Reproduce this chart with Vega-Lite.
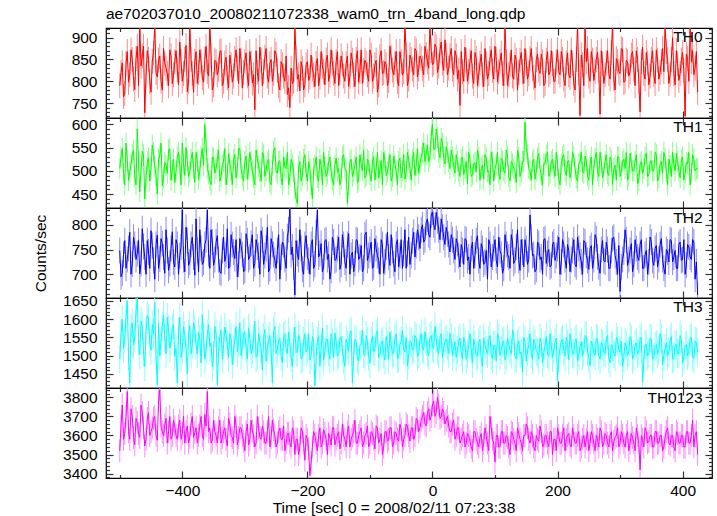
{
"$schema":"https://vega.github.io/schema/vega-lite/v6.json",
"padding":{"left":32,"top":7,"right":5,"bottom":5},
"title":{"text":"ae702037010_20080211072338_wam0_trn_4band_long.qdp","anchor":"start","frame":"group","font":"Liberation Sans","fontSize":15.5,"fontWeight":"normal","color":"#000","baseline":"alphabetic","offset":-13.5},
"datasets":{"lc":[
{"t":-500,"TH0":790,"TH1":505,"TH2":748,"TH3":1490,"TH0123":3520},
{"t":-498,"TH0":820,"TH1":530,"TH2":695,"TH3":1560,"TH0123":3650},
{"t":-496,"TH0":842,"TH1":548,"TH2":702,"TH3":1600,"TH0123":3760},
{"t":-494,"TH0":765,"TH1":495,"TH2":740,"TH3":1520,"TH0123":3580},
{"t":-492,"TH0":772,"TH1":470,"TH2":768,"TH3":1545,"TH0123":3610},
{"t":-490,"TH0":840,"TH1":560,"TH2":712,"TH3":1605,"TH0123":3700},
{"t":-488,"TH0":868,"TH1":522,"TH2":730,"TH3":1650,"TH0123":3830},
{"t":-486,"TH0":798,"TH1":480,"TH2":752,"TH3":1500,"TH0123":3620},
{"t":-484,"TH0":815,"TH1":498,"TH2":785,"TH3":1425,"TH0123":3580},
{"t":-482,"TH0":872,"TH1":515,"TH2":700,"TH3":1575,"TH0123":3740},
{"t":-480,"TH0":850,"TH1":536,"TH2":721,"TH3":1590,"TH0123":3700},
{"t":-478,"TH0":805,"TH1":545,"TH2":775,"TH3":1530,"TH0123":3590},
{"t":-476,"TH0":781,"TH1":487,"TH2":760,"TH3":1548,"TH0123":3552},
{"t":-474,"TH0":852,"TH1":470,"TH2":730,"TH3":1620,"TH0123":3690},
{"t":-472,"TH0":880,"TH1":590,"TH2":742,"TH3":1655,"TH0123":3668},
{"t":-470,"TH0":790,"TH1":520,"TH2":768,"TH3":1540,"TH0123":3610},
{"t":-468,"TH0":930,"TH1":455,"TH2":701,"TH3":1503,"TH0123":3590},
{"t":-466,"TH0":835,"TH1":500,"TH2":722,"TH3":1595,"TH0123":3760},
{"t":-464,"TH0":858,"TH1":542,"TH2":792,"TH3":1580,"TH0123":3720},
{"t":-462,"TH0":880,"TH1":535,"TH2":756,"TH3":1510,"TH0123":3640},
{"t":-460,"TH0":728,"TH1":440,"TH2":735,"TH3":1470,"TH0123":3545},
{"t":-458,"TH0":812,"TH1":485,"TH2":700,"TH3":1568,"TH0123":3580},
{"t":-456,"TH0":870,"TH1":520,"TH2":768,"TH3":1610,"TH0123":3690},
{"t":-454,"TH0":850,"TH1":528,"TH2":745,"TH3":1600,"TH0123":3720},
{"t":-452,"TH0":799,"TH1":478,"TH2":712,"TH3":1535,"TH0123":3600},
{"t":-450,"TH0":775,"TH1":505,"TH2":788,"TH3":1515,"TH0123":3620},
{"t":-448,"TH0":846,"TH1":556,"TH2":758,"TH3":1585,"TH0123":3640},
{"t":-446,"TH0":865,"TH1":540,"TH2":728,"TH3":1560,"TH0123":3690},
{"t":-444,"TH0":930,"TH1":510,"TH2":690,"TH3":1645,"TH0123":3700},
{"t":-442,"TH0":820,"TH1":490,"TH2":760,"TH3":1498,"TH0123":3600},
{"t":-440,"TH0":810,"TH1":450,"TH2":779,"TH3":1420,"TH0123":3575},
{"t":-438,"TH0":848,"TH1":525,"TH2":712,"TH3":1590,"TH0123":3780},
{"t":-436,"TH0":858,"TH1":532,"TH2":731,"TH3":1500,"TH0123":3840},
{"t":-434,"TH0":800,"TH1":560,"TH2":772,"TH3":1540,"TH0123":3650},
{"t":-432,"TH0":780,"TH1":468,"TH2":762,"TH3":1580,"TH0123":3620},
{"t":-430,"TH0":875,"TH1":485,"TH2":735,"TH3":1610,"TH0123":3600},
{"t":-428,"TH0":842,"TH1":518,"TH2":702,"TH3":1548,"TH0123":3655},
{"t":-426,"TH0":830,"TH1":512,"TH2":790,"TH3":1505,"TH0123":3690},
{"t":-424,"TH0":818,"TH1":495,"TH2":748,"TH3":1605,"TH0123":3560},
{"t":-422,"TH0":790,"TH1":545,"TH2":708,"TH3":1570,"TH0123":3620},
{"t":-420,"TH0":872,"TH1":548,"TH2":722,"TH3":1520,"TH0123":3700},
{"t":-418,"TH0":858,"TH1":480,"TH2":752,"TH3":1540,"TH0123":3580},
{"t":-416,"TH0":795,"TH1":502,"TH2":786,"TH3":1575,"TH0123":3600},
{"t":-414,"TH0":815,"TH1":525,"TH2":725,"TH3":1585,"TH0123":3680},
{"t":-412,"TH0":845,"TH1":475,"TH2":715,"TH3":1498,"TH0123":3645},
{"t":-410,"TH0":870,"TH1":500,"TH2":770,"TH3":1520,"TH0123":3600},
{"t":-408,"TH0":826,"TH1":530,"TH2":760,"TH3":1425,"TH0123":3580},
{"t":-406,"TH0":792,"TH1":540,"TH2":700,"TH3":1565,"TH0123":3650},
{"t":-404,"TH0":890,"TH1":512,"TH2":738,"TH3":1605,"TH0123":3680},
{"t":-402,"TH0":845,"TH1":470,"TH2":755,"TH3":1495,"TH0123":3580},
{"t":-400,"TH0":800,"TH1":560,"TH2":830,"TH3":1515,"TH0123":3610},
{"t":-398,"TH0":818,"TH1":515,"TH2":730,"TH3":1580,"TH0123":3700},
{"t":-396,"TH0":850,"TH1":490,"TH2":705,"TH3":1555,"TH0123":3560},
{"t":-394,"TH0":882,"TH1":550,"TH2":795,"TH3":1520,"TH0123":3620},
{"t":-392,"TH0":776,"TH1":522,"TH2":768,"TH3":1450,"TH0123":3650},
{"t":-390,"TH0":800,"TH1":488,"TH2":718,"TH3":1560,"TH0123":3560},
{"t":-388,"TH0":925,"TH1":498,"TH2":725,"TH3":1582,"TH0123":3590},
{"t":-386,"TH0":850,"TH1":525,"TH2":760,"TH3":1505,"TH0123":3660},
{"t":-384,"TH0":818,"TH1":540,"TH2":775,"TH3":1530,"TH0123":3700},
{"t":-382,"TH0":775,"TH1":505,"TH2":735,"TH3":1590,"TH0123":3590},
{"t":-380,"TH0":846,"TH1":475,"TH2":698,"TH3":1575,"TH0123":3615},
{"t":-378,"TH0":868,"TH1":540,"TH2":812,"TH3":1530,"TH0123":3640},
{"t":-376,"TH0":795,"TH1":520,"TH2":748,"TH3":1505,"TH0123":3560},
{"t":-374,"TH0":820,"TH1":482,"TH2":705,"TH3":1565,"TH0123":3600},
{"t":-372,"TH0":872,"TH1":500,"TH2":790,"TH3":1545,"TH0123":3650},
{"t":-370,"TH0":846,"TH1":530,"TH2":752,"TH3":1480,"TH0123":3700},
{"t":-368,"TH0":808,"TH1":548,"TH2":720,"TH3":1612,"TH0123":3600},
{"t":-366,"TH0":798,"TH1":512,"TH2":725,"TH3":1550,"TH0123":3580},
{"t":-364,"TH0":850,"TH1":600,"TH2":760,"TH3":1490,"TH0123":3710},
{"t":-362,"TH0":880,"TH1":560,"TH2":770,"TH3":1515,"TH0123":3650},
{"t":-360,"TH0":822,"TH1":505,"TH2":830,"TH3":1560,"TH0123":3830},
{"t":-358,"TH0":812,"TH1":495,"TH2":742,"TH3":1585,"TH0123":3620},
{"t":-356,"TH0":935,"TH1":480,"TH2":712,"TH3":1525,"TH0123":3640},
{"t":-354,"TH0":858,"TH1":470,"TH2":790,"TH3":1535,"TH0123":3560},
{"t":-352,"TH0":780,"TH1":530,"TH2":765,"TH3":1470,"TH0123":3575},
{"t":-350,"TH0":792,"TH1":528,"TH2":718,"TH3":1500,"TH0123":3680},
{"t":-348,"TH0":848,"TH1":495,"TH2":730,"TH3":1580,"TH0123":3620},
{"t":-346,"TH0":845,"TH1":505,"TH2":765,"TH3":1560,"TH0123":3600},
{"t":-344,"TH0":815,"TH1":525,"TH2":778,"TH3":1420,"TH0123":3560},
{"t":-342,"TH0":828,"TH1":545,"TH2":730,"TH3":1512,"TH0123":3640},
{"t":-340,"TH0":868,"TH1":478,"TH2":705,"TH3":1552,"TH0123":3680},
{"t":-338,"TH0":870,"TH1":488,"TH2":702,"TH3":1570,"TH0123":3560},
{"t":-336,"TH0":790,"TH1":512,"TH2":748,"TH3":1490,"TH0123":3590},
{"t":-334,"TH0":800,"TH1":520,"TH2":775,"TH3":1530,"TH0123":3620},
{"t":-332,"TH0":842,"TH1":548,"TH2":726,"TH3":1578,"TH0123":3640},
{"t":-330,"TH0":855,"TH1":470,"TH2":740,"TH3":1555,"TH0123":3580},
{"t":-328,"TH0":808,"TH1":492,"TH2":792,"TH3":1528,"TH0123":3545},
{"t":-326,"TH0":785,"TH1":538,"TH2":712,"TH3":1495,"TH0123":3690},
{"t":-324,"TH0":860,"TH1":515,"TH2":715,"TH3":1560,"TH0123":3660},
{"t":-322,"TH0":838,"TH1":500,"TH2":780,"TH3":1548,"TH0123":3600},
{"t":-320,"TH0":798,"TH1":470,"TH2":760,"TH3":1475,"TH0123":3590},
{"t":-318,"TH0":812,"TH1":525,"TH2":745,"TH3":1515,"TH0123":3560},
{"t":-316,"TH0":852,"TH1":535,"TH2":732,"TH3":1545,"TH0123":3700},
{"t":-314,"TH0":872,"TH1":485,"TH2":770,"TH3":1580,"TH0123":3650},
{"t":-312,"TH0":830,"TH1":506,"TH2":695,"TH3":1510,"TH0123":3550},
{"t":-310,"TH0":795,"TH1":548,"TH2":720,"TH3":1535,"TH0123":3590},
{"t":-308,"TH0":875,"TH1":548,"TH2":772,"TH3":1590,"TH0123":3640},
{"t":-306,"TH0":848,"TH1":505,"TH2":758,"TH3":1500,"TH0123":3640},
{"t":-304,"TH0":785,"TH1":490,"TH2":740,"TH3":1528,"TH0123":3600},
{"t":-302,"TH0":820,"TH1":478,"TH2":705,"TH3":1560,"TH0123":3570},
{"t":-300,"TH0":846,"TH1":520,"TH2":708,"TH3":1565,"TH0123":3520},
{"t":-298,"TH0":865,"TH1":532,"TH2":782,"TH3":1520,"TH0123":3620},
{"t":-296,"TH0":812,"TH1":482,"TH2":768,"TH3":1490,"TH0123":3660},
{"t":-294,"TH0":790,"TH1":505,"TH2":730,"TH3":1575,"TH0123":3550},
{"t":-292,"TH0":868,"TH1":540,"TH2":735,"TH3":1548,"TH0123":3580},
{"t":-290,"TH0":842,"TH1":520,"TH2":762,"TH3":1505,"TH0123":3680},
{"t":-288,"TH0":796,"TH1":500,"TH2":780,"TH3":1515,"TH0123":3625},
{"t":-286,"TH0":815,"TH1":485,"TH2":712,"TH3":1545,"TH0123":3600},
{"t":-284,"TH0":735,"TH1":470,"TH2":722,"TH3":1595,"TH0123":3540},
{"t":-282,"TH0":870,"TH1":545,"TH2":770,"TH3":1495,"TH0123":3560},
{"t":-280,"TH0":820,"TH1":526,"TH2":755,"TH3":1500,"TH0123":3700},
{"t":-278,"TH0":800,"TH1":510,"TH2":738,"TH3":1560,"TH0123":3640},
{"t":-276,"TH0":878,"TH1":498,"TH2":700,"TH3":1538,"TH0123":3590},
{"t":-274,"TH0":848,"TH1":478,"TH2":788,"TH3":1520,"TH0123":3580},
{"t":-272,"TH0":790,"TH1":540,"TH2":770,"TH3":1460,"TH0123":3650},
{"t":-270,"TH0":822,"TH1":535,"TH2":720,"TH3":1550,"TH0123":3620},
{"t":-268,"TH0":855,"TH1":488,"TH2":738,"TH3":1572,"TH0123":3560},
{"t":-266,"TH0":875,"TH1":500,"TH2":752,"TH3":1485,"TH0123":3560},
{"t":-264,"TH0":812,"TH1":520,"TH2":795,"TH3":1520,"TH0123":3620},
{"t":-262,"TH0":798,"TH1":525,"TH2":705,"TH3":1540,"TH0123":3700},
{"t":-260,"TH0":840,"TH1":476,"TH2":712,"TH3":1555,"TH0123":3540},
{"t":-258,"TH0":850,"TH1":470,"TH2":772,"TH3":1515,"TH0123":3590},
{"t":-256,"TH0":800,"TH1":512,"TH2":760,"TH3":1425,"TH0123":3680},
{"t":-254,"TH0":818,"TH1":542,"TH2":740,"TH3":1565,"TH0123":3630},
{"t":-252,"TH0":870,"TH1":550,"TH2":728,"TH3":1580,"TH0123":3600},
{"t":-250,"TH0":862,"TH1":498,"TH2":712,"TH3":1505,"TH0123":3540},
{"t":-248,"TH0":825,"TH1":495,"TH2":748,"TH3":1518,"TH0123":3560},
{"t":-246,"TH0":790,"TH1":520,"TH2":780,"TH3":1540,"TH0123":3620},
{"t":-244,"TH0":780,"TH1":522,"TH2":690,"TH3":1548,"TH0123":3640},
{"t":-242,"TH0":845,"TH1":485,"TH2":735,"TH3":1500,"TH0123":3580},
{"t":-240,"TH0":838,"TH1":470,"TH2":765,"TH3":1480,"TH0123":3580},
{"t":-238,"TH0":812,"TH1":530,"TH2":760,"TH3":1552,"TH0123":3650},
{"t":-236,"TH0":800,"TH1":508,"TH2":730,"TH3":1560,"TH0123":3520},
{"t":-234,"TH0":858,"TH1":505,"TH2":712,"TH3":1520,"TH0123":3560},
{"t":-232,"TH0":770,"TH1":540,"TH2":776,"TH3":1505,"TH0123":3610},
{"t":-230,"TH0":785,"TH1":470,"TH2":790,"TH3":1565,"TH0123":3610},
{"t":-228,"TH0":740,"TH1":488,"TH2":832,"TH3":1535,"TH0123":3560},
{"t":-226,"TH0":830,"TH1":525,"TH2":740,"TH3":1495,"TH0123":3540},
{"t":-224,"TH0":795,"TH1":515,"TH2":755,"TH3":1470,"TH0123":3640},
{"t":-222,"TH0":800,"TH1":498,"TH2":715,"TH3":1540,"TH0123":3620},
{"t":-220,"TH0":925,"TH1":462,"TH2":658,"TH3":1578,"TH0123":3500},
{"t":-218,"TH0":855,"TH1":440,"TH2":768,"TH3":1508,"TH0123":3580},
{"t":-216,"TH0":805,"TH1":430,"TH2":742,"TH3":1512,"TH0123":3580},
{"t":-214,"TH0":815,"TH1":510,"TH2":730,"TH3":1555,"TH0123":3500},
{"t":-212,"TH0":778,"TH1":520,"TH2":790,"TH3":1545,"TH0123":3540},
{"t":-210,"TH0":845,"TH1":478,"TH2":752,"TH3":1490,"TH0123":3640},
{"t":-208,"TH0":830,"TH1":490,"TH2":710,"TH3":1495,"TH0123":3620},
{"t":-206,"TH0":780,"TH1":525,"TH2":700,"TH3":1540,"TH0123":3560},
{"t":-204,"TH0":792,"TH1":535,"TH2":760,"TH3":1560,"TH0123":3470},
{"t":-202,"TH0":838,"TH1":495,"TH2":778,"TH3":1510,"TH0123":3600},
{"t":-200,"TH0":845,"TH1":478,"TH2":735,"TH3":1520,"TH0123":3580},
{"t":-198,"TH0":802,"TH1":520,"TH2":728,"TH3":1560,"TH0123":3530},
{"t":-196,"TH0":810,"TH1":505,"TH2":700,"TH3":1488,"TH0123":3390},
{"t":-194,"TH0":860,"TH1":470,"TH2":760,"TH3":1500,"TH0123":3460},
{"t":-192,"TH0":828,"TH1":440,"TH2":770,"TH3":1552,"TH0123":3540},
{"t":-190,"TH0":815,"TH1":505,"TH2":712,"TH3":1535,"TH0123":3620},
{"t":-188,"TH0":788,"TH1":512,"TH2":720,"TH3":1418,"TH0123":3600},
{"t":-186,"TH0":840,"TH1":530,"TH2":785,"TH3":1495,"TH0123":3560},
{"t":-184,"TH0":852,"TH1":486,"TH2":830,"TH3":1540,"TH0123":3520},
{"t":-182,"TH0":790,"TH1":478,"TH2":735,"TH3":1555,"TH0123":3600},
{"t":-180,"TH0":810,"TH1":525,"TH2":742,"TH3":1470,"TH0123":3640},
{"t":-178,"TH0":868,"TH1":512,"TH2":762,"TH3":1520,"TH0123":3540},
{"t":-176,"TH0":835,"TH1":470,"TH2":705,"TH3":1575,"TH0123":3560},
{"t":-174,"TH0":822,"TH1":540,"TH2":715,"TH3":1488,"TH0123":3630},
{"t":-172,"TH0":792,"TH1":508,"TH2":768,"TH3":1510,"TH0123":3610},
{"t":-170,"TH0":848,"TH1":488,"TH2":770,"TH3":1545,"TH0123":3580},
{"t":-168,"TH0":860,"TH1":495,"TH2":730,"TH3":1545,"TH0123":3500},
{"t":-166,"TH0":800,"TH1":520,"TH2":740,"TH3":1510,"TH0123":3610},
{"t":-164,"TH0":815,"TH1":530,"TH2":690,"TH3":1490,"TH0123":3590},
{"t":-162,"TH0":872,"TH1":498,"TH2":708,"TH3":1560,"TH0123":3550},
{"t":-160,"TH0":842,"TH1":480,"TH2":775,"TH3":1535,"TH0123":3640},
{"t":-158,"TH0":818,"TH1":470,"TH2":765,"TH3":1495,"TH0123":3640},
{"t":-156,"TH0":795,"TH1":512,"TH2":728,"TH3":1562,"TH0123":3550},
{"t":-154,"TH0":845,"TH1":528,"TH2":730,"TH3":1538,"TH0123":3580},
{"t":-152,"TH0":868,"TH1":498,"TH2":752,"TH3":1500,"TH0123":3600},
{"t":-150,"TH0":790,"TH1":505,"TH2":775,"TH3":1505,"TH0123":3620},
{"t":-148,"TH0":820,"TH1":470,"TH2":710,"TH3":1548,"TH0123":3530},
{"t":-146,"TH0":858,"TH1":482,"TH2":720,"TH3":1552,"TH0123":3560},
{"t":-144,"TH0":840,"TH1":530,"TH2":780,"TH3":1515,"TH0123":3660},
{"t":-142,"TH0":812,"TH1":535,"TH2":760,"TH3":1490,"TH0123":3600},
{"t":-140,"TH0":800,"TH1":505,"TH2":725,"TH3":1470,"TH0123":3580},
{"t":-138,"TH0":840,"TH1":500,"TH2":712,"TH3":1545,"TH0123":3540},
{"t":-136,"TH0":858,"TH1":430,"TH2":760,"TH3":1530,"TH0123":3620},
{"t":-134,"TH0":788,"TH1":470,"TH2":782,"TH3":1512,"TH0123":3650},
{"t":-132,"TH0":812,"TH1":520,"TH2":700,"TH3":1560,"TH0123":3540},
{"t":-130,"TH0":865,"TH1":525,"TH2":738,"TH3":1568,"TH0123":3580},
{"t":-128,"TH0":848,"TH1":488,"TH2":745,"TH3":1425,"TH0123":3600},
{"t":-126,"TH0":815,"TH1":498,"TH2":705,"TH3":1500,"TH0123":3620},
{"t":-124,"TH0":788,"TH1":512,"TH2":722,"TH3":1545,"TH0123":3680},
{"t":-122,"TH0":850,"TH1":530,"TH2":770,"TH3":1540,"TH0123":3560},
{"t":-120,"TH0":870,"TH1":475,"TH2":768,"TH3":1490,"TH0123":3560},
{"t":-118,"TH0":798,"TH1":480,"TH2":730,"TH3":1485,"TH0123":3600},
{"t":-116,"TH0":822,"TH1":535,"TH2":735,"TH3":1528,"TH0123":3620},
{"t":-114,"TH0":872,"TH1":515,"TH2":758,"TH3":1530,"TH0123":3640},
{"t":-112,"TH0":795,"TH1":500,"TH2":705,"TH3":1570,"TH0123":3540},
{"t":-110,"TH0":825,"TH1":545,"TH2":712,"TH3":1505,"TH0123":3560},
{"t":-108,"TH0":848,"TH1":485,"TH2":780,"TH3":1500,"TH0123":3600},
{"t":-106,"TH0":842,"TH1":490,"TH2":785,"TH3":1555,"TH0123":3610},
{"t":-104,"TH0":815,"TH1":525,"TH2":728,"TH3":1538,"TH0123":3650},
{"t":-102,"TH0":800,"TH1":520,"TH2":738,"TH3":1498,"TH0123":3540},
{"t":-100,"TH0":872,"TH1":492,"TH2":750,"TH3":1478,"TH0123":3560},
{"t":-98,"TH0":860,"TH1":478,"TH2":765,"TH3":1540,"TH0123":3620},
{"t":-96,"TH0":800,"TH1":518,"TH2":712,"TH3":1552,"TH0123":3610},
{"t":-94,"TH0":812,"TH1":530,"TH2":715,"TH3":1512,"TH0123":3580},
{"t":-92,"TH0":838,"TH1":480,"TH2":772,"TH3":1512,"TH0123":3530},
{"t":-90,"TH0":848,"TH1":505,"TH2":752,"TH3":1560,"TH0123":3650},
{"t":-88,"TH0":775,"TH1":540,"TH2":738,"TH3":1568,"TH0123":3640},
{"t":-86,"TH0":792,"TH1":485,"TH2":728,"TH3":1495,"TH0123":3560},
{"t":-84,"TH0":856,"TH1":502,"TH2":700,"TH3":1500,"TH0123":3580},
{"t":-82,"TH0":870,"TH1":522,"TH2":770,"TH3":1535,"TH0123":3610},
{"t":-80,"TH0":818,"TH1":470,"TH2":760,"TH3":1540,"TH0123":3500},
{"t":-78,"TH0":820,"TH1":540,"TH2":702,"TH3":1505,"TH0123":3540},
{"t":-76,"TH0":845,"TH1":522,"TH2":725,"TH3":1488,"TH0123":3620},
{"t":-74,"TH0":838,"TH1":490,"TH2":755,"TH3":1552,"TH0123":3620},
{"t":-72,"TH0":790,"TH1":498,"TH2":785,"TH3":1530,"TH0123":3570},
{"t":-70,"TH0":802,"TH1":515,"TH2":735,"TH3":1490,"TH0123":3580},
{"t":-68,"TH0":880,"TH1":535,"TH2":718,"TH3":1565,"TH0123":3640},
{"t":-66,"TH0":855,"TH1":478,"TH2":780,"TH3":1530,"TH0123":3640},
{"t":-64,"TH0":826,"TH1":488,"TH2":748,"TH3":1505,"TH0123":3540},
{"t":-62,"TH0":815,"TH1":532,"TH2":722,"TH3":1508,"TH0123":3560},
{"t":-60,"TH0":842,"TH1":515,"TH2":705,"TH3":1548,"TH0123":3620},
{"t":-58,"TH0":868,"TH1":500,"TH2":760,"TH3":1560,"TH0123":3610},
{"t":-56,"TH0":800,"TH1":470,"TH2":770,"TH3":1492,"TH0123":3580},
{"t":-54,"TH0":790,"TH1":520,"TH2":715,"TH3":1495,"TH0123":3570},
{"t":-52,"TH0":868,"TH1":528,"TH2":738,"TH3":1530,"TH0123":3660},
{"t":-50,"TH0":845,"TH1":485,"TH2":770,"TH3":1540,"TH0123":3630},
{"t":-48,"TH0":815,"TH1":500,"TH2":712,"TH3":1568,"TH0123":3540},
{"t":-46,"TH0":822,"TH1":535,"TH2":742,"TH3":1515,"TH0123":3580},
{"t":-44,"TH0":930,"TH1":482,"TH2":790,"TH3":1510,"TH0123":3600},
{"t":-42,"TH0":862,"TH1":498,"TH2":712,"TH3":1550,"TH0123":3660},
{"t":-40,"TH0":790,"TH1":540,"TH2":742,"TH3":1472,"TH0123":3650},
{"t":-38,"TH0":805,"TH1":525,"TH2":775,"TH3":1500,"TH0123":3600},
{"t":-36,"TH0":860,"TH1":505,"TH2":720,"TH3":1540,"TH0123":3570},
{"t":-34,"TH0":850,"TH1":480,"TH2":738,"TH3":1535,"TH0123":3640},
{"t":-32,"TH0":828,"TH1":525,"TH2":768,"TH3":1515,"TH0123":3640},
{"t":-30,"TH0":815,"TH1":540,"TH2":785,"TH3":1520,"TH0123":3580},
{"t":-28,"TH0":875,"TH1":490,"TH2":735,"TH3":1555,"TH0123":3600},
{"t":-26,"TH0":870,"TH1":512,"TH2":758,"TH3":1548,"TH0123":3690},
{"t":-24,"TH0":810,"TH1":548,"TH2":790,"TH3":1498,"TH0123":3680},
{"t":-22,"TH0":828,"TH1":495,"TH2":775,"TH3":1505,"TH0123":3620},
{"t":-20,"TH0":858,"TH1":515,"TH2":752,"TH3":1545,"TH0123":3640},
{"t":-18,"TH0":852,"TH1":530,"TH2":790,"TH3":1560,"TH0123":3680},
{"t":-16,"TH0":830,"TH1":540,"TH2":800,"TH3":1520,"TH0123":3700},
{"t":-14,"TH0":815,"TH1":560,"TH2":765,"TH3":1515,"TH0123":3720},
{"t":-12,"TH0":880,"TH1":520,"TH2":770,"TH3":1565,"TH0123":3660},
{"t":-10,"TH0":862,"TH1":535,"TH2":805,"TH3":1540,"TH0123":3650},
{"t":-8,"TH0":845,"TH1":556,"TH2":812,"TH3":1510,"TH0123":3720},
{"t":-6,"TH0":830,"TH1":520,"TH2":780,"TH3":1500,"TH0123":3740},
{"t":-4,"TH0":925,"TH1":530,"TH2":775,"TH3":1548,"TH0123":3680},
{"t":-2,"TH0":870,"TH1":575,"TH2":820,"TH3":1555,"TH0123":3700},
{"t":0,"TH0":838,"TH1":600,"TH2":826,"TH3":1525,"TH0123":3760},
{"t":2,"TH0":842,"TH1":548,"TH2":800,"TH3":1520,"TH0123":3780},
{"t":4,"TH0":885,"TH1":545,"TH2":790,"TH3":1580,"TH0123":3700},
{"t":6,"TH0":878,"TH1":590,"TH2":825,"TH3":1548,"TH0123":3720},
{"t":8,"TH0":820,"TH1":572,"TH2":808,"TH3":1515,"TH0123":3800},
{"t":10,"TH0":835,"TH1":540,"TH2":790,"TH3":1505,"TH0123":3760},
{"t":12,"TH0":870,"TH1":528,"TH2":770,"TH3":1550,"TH0123":3690},
{"t":14,"TH0":890,"TH1":570,"TH2":812,"TH3":1560,"TH0123":3700},
{"t":16,"TH0":842,"TH1":560,"TH2":795,"TH3":1495,"TH0123":3740},
{"t":18,"TH0":825,"TH1":530,"TH2":775,"TH3":1520,"TH0123":3720},
{"t":20,"TH0":895,"TH1":515,"TH2":760,"TH3":1540,"TH0123":3660},
{"t":22,"TH0":860,"TH1":552,"TH2":795,"TH3":1545,"TH0123":3680},
{"t":24,"TH0":815,"TH1":540,"TH2":782,"TH3":1528,"TH0123":3700},
{"t":26,"TH0":830,"TH1":520,"TH2":760,"TH3":1505,"TH0123":3650},
{"t":28,"TH0":858,"TH1":505,"TH2":745,"TH3":1562,"TH0123":3620},
{"t":30,"TH0":875,"TH1":545,"TH2":780,"TH3":1548,"TH0123":3620},
{"t":32,"TH0":828,"TH1":530,"TH2":770,"TH3":1500,"TH0123":3660},
{"t":34,"TH0":815,"TH1":510,"TH2":748,"TH3":1520,"TH0123":3680},
{"t":36,"TH0":870,"TH1":495,"TH2":730,"TH3":1538,"TH0123":3580},
{"t":38,"TH0":858,"TH1":535,"TH2":772,"TH3":1495,"TH0123":3600},
{"t":40,"TH0":805,"TH1":520,"TH2":762,"TH3":1515,"TH0123":3640},
{"t":42,"TH0":825,"TH1":500,"TH2":738,"TH3":1540,"TH0123":3640},
{"t":44,"TH0":745,"TH1":488,"TH2":715,"TH3":1548,"TH0123":3560},
{"t":46,"TH0":868,"TH1":525,"TH2":760,"TH3":1510,"TH0123":3580},
{"t":48,"TH0":822,"TH1":530,"TH2":748,"TH3":1490,"TH0123":3600},
{"t":50,"TH0":800,"TH1":492,"TH2":720,"TH3":1550,"TH0123":3620},
{"t":52,"TH0":878,"TH1":505,"TH2":772,"TH3":1535,"TH0123":3540},
{"t":54,"TH0":848,"TH1":520,"TH2":770,"TH3":1490,"TH0123":3560},
{"t":56,"TH0":800,"TH1":472,"TH2":728,"TH3":1505,"TH0123":3610},
{"t":58,"TH0":822,"TH1":540,"TH2":735,"TH3":1530,"TH0123":3600},
{"t":60,"TH0":845,"TH1":525,"TH2":700,"TH3":1560,"TH0123":3570},
{"t":62,"TH0":870,"TH1":488,"TH2":752,"TH3":1515,"TH0123":3540},
{"t":64,"TH0":812,"TH1":492,"TH2":765,"TH3":1480,"TH0123":3520},
{"t":66,"TH0":795,"TH1":515,"TH2":712,"TH3":1545,"TH0123":3620},
{"t":68,"TH0":866,"TH1":518,"TH2":738,"TH3":1528,"TH0123":3620},
{"t":70,"TH0":852,"TH1":498,"TH2":768,"TH3":1500,"TH0123":3580},
{"t":72,"TH0":790,"TH1":545,"TH2":778,"TH3":1500,"TH0123":3560},
{"t":74,"TH0":815,"TH1":530,"TH2":728,"TH3":1535,"TH0123":3540},
{"t":76,"TH0":842,"TH1":480,"TH2":712,"TH3":1545,"TH0123":3590},
{"t":78,"TH0":862,"TH1":505,"TH2":762,"TH3":1490,"TH0123":3610},
{"t":80,"TH0":815,"TH1":512,"TH2":752,"TH3":1470,"TH0123":3520},
{"t":82,"TH0":788,"TH1":482,"TH2":720,"TH3":1548,"TH0123":3560},
{"t":84,"TH0":875,"TH1":535,"TH2":725,"TH3":1530,"TH0123":3640},
{"t":86,"TH0":840,"TH1":528,"TH2":748,"TH3":1515,"TH0123":3600},
{"t":88,"TH0":805,"TH1":498,"TH2":690,"TH3":1505,"TH0123":3560},
{"t":90,"TH0":818,"TH1":500,"TH2":770,"TH3":1540,"TH0123":3520},
{"t":92,"TH0":852,"TH1":470,"TH2":760,"TH3":1555,"TH0123":3700},
{"t":94,"TH0":872,"TH1":540,"TH2":715,"TH3":1500,"TH0123":3640},
{"t":96,"TH0":825,"TH1":520,"TH2":735,"TH3":1492,"TH0123":3580},
{"t":98,"TH0":805,"TH1":478,"TH2":752,"TH3":1528,"TH0123":3560},
{"t":100,"TH0":880,"TH1":505,"TH2":770,"TH3":1528,"TH0123":3460},
{"t":102,"TH0":850,"TH1":515,"TH2":728,"TH3":1485,"TH0123":3600},
{"t":104,"TH0":798,"TH1":540,"TH2":715,"TH3":1560,"TH0123":3600},
{"t":106,"TH0":822,"TH1":495,"TH2":775,"TH3":1550,"TH0123":3540},
{"t":108,"TH0":846,"TH1":482,"TH2":748,"TH3":1500,"TH0123":3540},
{"t":110,"TH0":865,"TH1":528,"TH2":740,"TH3":1515,"TH0123":3620},
{"t":112,"TH0":818,"TH1":520,"TH2":702,"TH3":1535,"TH0123":3620},
{"t":114,"TH0":790,"TH1":500,"TH2":712,"TH3":1540,"TH0123":3560},
{"t":116,"TH0":928,"TH1":495,"TH2":780,"TH3":1488,"TH0123":3560},
{"t":118,"TH0":845,"TH1":545,"TH2":760,"TH3":1500,"TH0123":3600},
{"t":120,"TH0":790,"TH1":532,"TH2":740,"TH3":1548,"TH0123":3590},
{"t":122,"TH0":815,"TH1":488,"TH2":735,"TH3":1532,"TH0123":3540},
{"t":124,"TH0":838,"TH1":478,"TH2":712,"TH3":1515,"TH0123":3500},
{"t":126,"TH0":872,"TH1":520,"TH2":780,"TH3":1505,"TH0123":3620},
{"t":128,"TH0":812,"TH1":515,"TH2":765,"TH3":1570,"TH0123":3610},
{"t":130,"TH0":805,"TH1":505,"TH2":722,"TH3":1558,"TH0123":3580},
{"t":132,"TH0":860,"TH1":500,"TH2":728,"TH3":1495,"TH0123":3560},
{"t":134,"TH0":848,"TH1":475,"TH2":755,"TH3":1492,"TH0123":3520},
{"t":136,"TH0":780,"TH1":545,"TH2":790,"TH3":1530,"TH0123":3640},
{"t":138,"TH0":820,"TH1":530,"TH2":728,"TH3":1540,"TH0123":3610},
{"t":140,"TH0":848,"TH1":488,"TH2":708,"TH3":1505,"TH0123":3580},
{"t":142,"TH0":866,"TH1":498,"TH2":770,"TH3":1510,"TH0123":3560},
{"t":144,"TH0":822,"TH1":520,"TH2":745,"TH3":1455,"TH0123":3520},
{"t":146,"TH0":795,"TH1":520,"TH2":715,"TH3":1550,"TH0123":3600},
{"t":148,"TH0":875,"TH1":605,"TH2":770,"TH3":1540,"TH0123":3600},
{"t":150,"TH0":842,"TH1":548,"TH2":752,"TH3":1485,"TH0123":3660},
{"t":152,"TH0":805,"TH1":536,"TH2":720,"TH3":1512,"TH0123":3640},
{"t":154,"TH0":818,"TH1":505,"TH2":730,"TH3":1530,"TH0123":3580},
{"t":156,"TH0":852,"TH1":500,"TH2":820,"TH3":1560,"TH0123":3560},
{"t":158,"TH0":875,"TH1":480,"TH2":775,"TH3":1505,"TH0123":3620},
{"t":160,"TH0":828,"TH1":520,"TH2":738,"TH3":1490,"TH0123":3600},
{"t":162,"TH0":808,"TH1":525,"TH2":740,"TH3":1545,"TH0123":3540},
{"t":164,"TH0":785,"TH1":482,"TH2":705,"TH3":1532,"TH0123":3520},
{"t":166,"TH0":850,"TH1":500,"TH2":710,"TH3":1512,"TH0123":3600},
{"t":168,"TH0":862,"TH1":528,"TH2":765,"TH3":1508,"TH0123":3580},
{"t":170,"TH0":826,"TH1":538,"TH2":762,"TH3":1490,"TH0123":3570},
{"t":172,"TH0":818,"TH1":505,"TH2":730,"TH3":1548,"TH0123":3650},
{"t":174,"TH0":862,"TH1":490,"TH2":735,"TH3":1535,"TH0123":3620},
{"t":176,"TH0":845,"TH1":470,"TH2":700,"TH3":1480,"TH0123":3540},
{"t":178,"TH0":790,"TH1":515,"TH2":770,"TH3":1508,"TH0123":3550},
{"t":180,"TH0":795,"TH1":515,"TH2":772,"TH3":1528,"TH0123":3600},
{"t":182,"TH0":848,"TH1":535,"TH2":722,"TH3":1552,"TH0123":3600},
{"t":184,"TH0":868,"TH1":540,"TH2":742,"TH3":1505,"TH0123":3560},
{"t":186,"TH0":815,"TH1":488,"TH2":750,"TH3":1498,"TH0123":3540},
{"t":188,"TH0":822,"TH1":495,"TH2":715,"TH3":1560,"TH0123":3620},
{"t":190,"TH0":870,"TH1":520,"TH2":718,"TH3":1530,"TH0123":3620},
{"t":192,"TH0":840,"TH1":525,"TH2":760,"TH3":1495,"TH0123":3500},
{"t":194,"TH0":800,"TH1":505,"TH2":765,"TH3":1515,"TH0123":3580},
{"t":196,"TH0":800,"TH1":488,"TH2":728,"TH3":1535,"TH0123":3580},
{"t":198,"TH0":845,"TH1":540,"TH2":738,"TH3":1548,"TH0123":3520},
{"t":200,"TH0":872,"TH1":512,"TH2":752,"TH3":1430,"TH0123":3640},
{"t":202,"TH0":822,"TH1":482,"TH2":775,"TH3":1495,"TH0123":3600},
{"t":204,"TH0":815,"TH1":470,"TH2":700,"TH3":1520,"TH0123":3560},
{"t":206,"TH0":868,"TH1":515,"TH2":725,"TH3":1540,"TH0123":3560},
{"t":208,"TH0":850,"TH1":530,"TH2":770,"TH3":1545,"TH0123":3600},
{"t":210,"TH0":805,"TH1":535,"TH2":760,"TH3":1512,"TH0123":3640},
{"t":212,"TH0":790,"TH1":500,"TH2":730,"TH3":1498,"TH0123":3520},
{"t":214,"TH0":842,"TH1":490,"TH2":712,"TH3":1550,"TH0123":3580},
{"t":216,"TH0":865,"TH1":520,"TH2":760,"TH3":1530,"TH0123":3600},
{"t":218,"TH0":815,"TH1":522,"TH2":748,"TH3":1488,"TH0123":3610},
{"t":220,"TH0":808,"TH1":485,"TH2":705,"TH3":1560,"TH0123":3550},
{"t":222,"TH0":872,"TH1":500,"TH2":730,"TH3":1535,"TH0123":3540},
{"t":224,"TH0":842,"TH1":540,"TH2":748,"TH3":1505,"TH0123":3640},
{"t":226,"TH0":795,"TH1":530,"TH2":770,"TH3":1505,"TH0123":3600},
{"t":228,"TH0":780,"TH1":505,"TH2":720,"TH3":1540,"TH0123":3560},
{"t":230,"TH0":850,"TH1":485,"TH2":715,"TH3":1545,"TH0123":3560},
{"t":232,"TH0":928,"TH1":478,"TH2":775,"TH3":1485,"TH0123":3600},
{"t":234,"TH0":820,"TH1":515,"TH2":752,"TH3":1500,"TH0123":3620},
{"t":236,"TH0":722,"TH1":520,"TH2":738,"TH3":1525,"TH0123":3520},
{"t":238,"TH0":860,"TH1":540,"TH2":725,"TH3":1538,"TH0123":3540},
{"t":240,"TH0":838,"TH1":498,"TH2":700,"TH3":1500,"TH0123":3580},
{"t":242,"TH0":790,"TH1":495,"TH2":768,"TH3":1510,"TH0123":3600},
{"t":244,"TH0":925,"TH1":532,"TH2":765,"TH3":1555,"TH0123":3540},
{"t":246,"TH0":845,"TH1":522,"TH2":738,"TH3":1552,"TH0123":3580},
{"t":248,"TH0":875,"TH1":490,"TH2":728,"TH3":1510,"TH0123":3620},
{"t":250,"TH0":812,"TH1":480,"TH2":710,"TH3":1495,"TH0123":3520},
{"t":252,"TH0":800,"TH1":515,"TH2":752,"TH3":1472,"TH0123":3560},
{"t":254,"TH0":868,"TH1":530,"TH2":758,"TH3":1540,"TH0123":3620},
{"t":256,"TH0":848,"TH1":470,"TH2":712,"TH3":1528,"TH0123":3600},
{"t":258,"TH0":802,"TH1":505,"TH2":730,"TH3":1508,"TH0123":3560},
{"t":260,"TH0":822,"TH1":528,"TH2":780,"TH3":1500,"TH0123":3520},
{"t":262,"TH0":850,"TH1":540,"TH2":772,"TH3":1548,"TH0123":3600},
{"t":264,"TH0":866,"TH1":500,"TH2":735,"TH3":1545,"TH0123":3580},
{"t":266,"TH0":825,"TH1":488,"TH2":715,"TH3":1500,"TH0123":3540},
{"t":268,"TH0":725,"TH1":540,"TH2":702,"TH3":1490,"TH0123":3640},
{"t":270,"TH0":870,"TH1":518,"TH2":750,"TH3":1535,"TH0123":3620},
{"t":272,"TH0":840,"TH1":485,"TH2":768,"TH3":1530,"TH0123":3540},
{"t":274,"TH0":795,"TH1":500,"TH2":728,"TH3":1510,"TH0123":3560},
{"t":276,"TH0":815,"TH1":520,"TH2":725,"TH3":1505,"TH0123":3610},
{"t":278,"TH0":842,"TH1":535,"TH2":765,"TH3":1545,"TH0123":3600},
{"t":280,"TH0":870,"TH1":495,"TH2":750,"TH3":1555,"TH0123":3560},
{"t":282,"TH0":818,"TH1":490,"TH2":712,"TH3":1492,"TH0123":3540},
{"t":284,"TH0":805,"TH1":530,"TH2":712,"TH3":1480,"TH0123":3600},
{"t":286,"TH0":866,"TH1":522,"TH2":748,"TH3":1530,"TH0123":3620},
{"t":288,"TH0":930,"TH1":470,"TH2":772,"TH3":1525,"TH0123":3520},
{"t":290,"TH0":805,"TH1":505,"TH2":775,"TH3":1505,"TH0123":3570},
{"t":292,"TH0":780,"TH1":512,"TH2":738,"TH3":1498,"TH0123":3590},
{"t":294,"TH0":852,"TH1":480,"TH2":725,"TH3":1550,"TH0123":3600},
{"t":296,"TH0":845,"TH1":530,"TH2":700,"TH3":1540,"TH0123":3640},
{"t":298,"TH0":822,"TH1":530,"TH2":758,"TH3":1515,"TH0123":3540},
{"t":300,"TH0":818,"TH1":488,"TH2":665,"TH3":1510,"TH0123":3560},
{"t":302,"TH0":875,"TH1":500,"TH2":715,"TH3":1540,"TH0123":3620},
{"t":304,"TH0":872,"TH1":520,"TH2":730,"TH3":1470,"TH0123":3600},
{"t":306,"TH0":798,"TH1":525,"TH2":745,"TH3":1495,"TH0123":3560},
{"t":308,"TH0":800,"TH1":505,"TH2":790,"TH3":1535,"TH0123":3540},
{"t":310,"TH0":848,"TH1":540,"TH2":770,"TH3":1528,"TH0123":3600},
{"t":312,"TH0":845,"TH1":480,"TH2":718,"TH3":1500,"TH0123":3620},
{"t":314,"TH0":812,"TH1":488,"TH2":730,"TH3":1510,"TH0123":3520},
{"t":316,"TH0":822,"TH1":538,"TH2":748,"TH3":1552,"TH0123":3560},
{"t":318,"TH0":860,"TH1":518,"TH2":762,"TH3":1545,"TH0123":3610},
{"t":320,"TH0":868,"TH1":500,"TH2":705,"TH3":1490,"TH0123":3590},
{"t":322,"TH0":828,"TH1":500,"TH2":720,"TH3":1500,"TH0123":3560},
{"t":324,"TH0":790,"TH1":520,"TH2":770,"TH3":1528,"TH0123":3520},
{"t":326,"TH0":870,"TH1":535,"TH2":752,"TH3":1535,"TH0123":3640},
{"t":328,"TH0":850,"TH1":472,"TH2":735,"TH3":1505,"TH0123":3600},
{"t":330,"TH0":800,"TH1":480,"TH2":728,"TH3":1512,"TH0123":3560},
{"t":332,"TH0":730,"TH1":515,"TH2":760,"TH3":1545,"TH0123":3420},
{"t":334,"TH0":845,"TH1":520,"TH2":770,"TH3":1550,"TH0123":3600},
{"t":336,"TH0":878,"TH1":495,"TH2":712,"TH3":1428,"TH0123":3580},
{"t":338,"TH0":818,"TH1":505,"TH2":712,"TH3":1490,"TH0123":3540},
{"t":340,"TH0":805,"TH1":530,"TH2":740,"TH3":1530,"TH0123":3640},
{"t":342,"TH0":866,"TH1":538,"TH2":748,"TH3":1530,"TH0123":3620},
{"t":344,"TH0":842,"TH1":488,"TH2":700,"TH3":1500,"TH0123":3560},
{"t":346,"TH0":792,"TH1":490,"TH2":725,"TH3":1505,"TH0123":3570},
{"t":348,"TH0":812,"TH1":520,"TH2":775,"TH3":1548,"TH0123":3600},
{"t":350,"TH0":850,"TH1":522,"TH2":765,"TH3":1545,"TH0123":3600},
{"t":352,"TH0":870,"TH1":500,"TH2":728,"TH3":1490,"TH0123":3540},
{"t":354,"TH0":815,"TH1":500,"TH2":718,"TH3":1495,"TH0123":3540},
{"t":356,"TH0":795,"TH1":540,"TH2":752,"TH3":1525,"TH0123":3620},
{"t":358,"TH0":872,"TH1":535,"TH2":758,"TH3":1530,"TH0123":3620},
{"t":360,"TH0":848,"TH1":478,"TH2":715,"TH3":1505,"TH0123":3560},
{"t":362,"TH0":805,"TH1":485,"TH2":730,"TH3":1515,"TH0123":3560},
{"t":364,"TH0":820,"TH1":515,"TH2":760,"TH3":1560,"TH0123":3600},
{"t":366,"TH0":845,"TH1":520,"TH2":772,"TH3":1548,"TH0123":3600},
{"t":368,"TH0":875,"TH1":495,"TH2":730,"TH3":1475,"TH0123":3520},
{"t":370,"TH0":822,"TH1":540,"TH2":712,"TH3":1500,"TH0123":3540},
{"t":372,"TH0":925,"TH1":528,"TH2":700,"TH3":1520,"TH0123":3590},
{"t":374,"TH0":868,"TH1":498,"TH2":750,"TH3":1535,"TH0123":3620},
{"t":376,"TH0":850,"TH1":470,"TH2":745,"TH3":1500,"TH0123":3640},
{"t":378,"TH0":795,"TH1":525,"TH2":725,"TH3":1510,"TH0123":3560},
{"t":380,"TH0":815,"TH1":512,"TH2":770,"TH3":1540,"TH0123":3550},
{"t":382,"TH0":850,"TH1":488,"TH2":768,"TH3":1552,"TH0123":3600},
{"t":384,"TH0":900,"TH1":540,"TH2":725,"TH3":1490,"TH0123":3600},
{"t":386,"TH0":818,"TH1":515,"TH2":735,"TH3":1495,"TH0123":3540},
{"t":388,"TH0":792,"TH1":500,"TH2":748,"TH3":1530,"TH0123":3520},
{"t":390,"TH0":870,"TH1":538,"TH2":712,"TH3":1530,"TH0123":3620},
{"t":392,"TH0":840,"TH1":520,"TH2":712,"TH3":1505,"TH0123":3610},
{"t":394,"TH0":802,"TH1":500,"TH2":760,"TH3":1505,"TH0123":3560},
{"t":396,"TH0":818,"TH1":485,"TH2":765,"TH3":1555,"TH0123":3560},
{"t":398,"TH0":848,"TH1":525,"TH2":728,"TH3":1545,"TH0123":3600},
{"t":400,"TH0":866,"TH1":530,"TH2":730,"TH3":1480,"TH0123":3600},
{"t":402,"TH0":825,"TH1":480,"TH2":770,"TH3":1498,"TH0123":3540},
{"t":404,"TH0":720,"TH1":495,"TH2":700,"TH3":1525,"TH0123":3540},
{"t":406,"TH0":862,"TH1":518,"TH2":718,"TH3":1530,"TH0123":3620},
{"t":408,"TH0":852,"TH1":515,"TH2":760,"TH3":1500,"TH0123":3620},
{"t":410,"TH0":800,"TH1":540,"TH2":755,"TH3":1510,"TH0123":3560},
{"t":412,"TH0":928,"TH1":470,"TH2":735,"TH3":1545,"TH0123":3560},
{"t":414,"TH0":845,"TH1":495,"TH2":730,"TH3":1550,"TH0123":3600},
{"t":416,"TH0":870,"TH1":535,"TH2":770,"TH3":1498,"TH0123":3680},
{"t":418,"TH0":815,"TH1":525,"TH2":765,"TH3":1492,"TH0123":3540},
{"t":420,"TH0":830,"TH1":500,"TH2":690,"TH3":1540,"TH0123":3600},
{"t":422,"TH0":868,"TH1":505,"TH2":725,"TH3":1535,"TH0123":3620},
{"t":424,"TH0":775,"TH1":505,"TH2":658,"TH3":1510,"TH0123":3500}
]},
"spacing":0,
"bounds":"flush",
"vconcat":[
{"width":606,"height":90,
 "layer":[
  {"data":{"name":"lc"},"mark":{"type":"tick","orient":"vertical","size":25,"thickness":1,"color":"#ff8a8a","opacity":1,"clip":true},
   "encoding":{
    "x":{"field":"t","type":"quantitative","scale":{"domain":[-522,447],"nice":false,"zero":false},"axis":{"orient":"bottom","values":[-500,-400,-300,-200,-100,0,100,200,300,400],"labels":false,"title":null,"tickSize":{"condition":{"test":"datum.value % 200 === 0","value":-7},"value":-3.5}}},
    "y":{"field":"TH0","type":"quantitative","scale":{"domain":[716,922],"nice":false,"zero":false},"axis":{"orient":"left","format":"d","values":[720,730,740,750,760,770,780,790,800,810,820,830,840,850,860,870,880,890,900,910,920],"title":null,"labelExpr":"datum.value % 50 === 0 ? datum.label : ''","labelPadding":16,"tickSize":{"condition":{"test":"datum.value % 50 === 0","value":-7},"value":-3.5}}}
   }},
  {"data":{"name":"lc"},"mark":{"type":"line","color":"#ff0000","strokeWidth":1,"clip":true},
   "encoding":{
    "x":{"field":"t","type":"quantitative","scale":{"domain":[-522,447],"nice":false,"zero":false},"axis":null},
    "y":{"field":"TH0","type":"quantitative","scale":{"domain":[716,922],"nice":false,"zero":false},"axis":null}
   }},
  {"data":{"values":[{"label":"TH0"}]},"mark":{"type":"text","align":"right","baseline":"middle","fontSize":15.5,"font":"Liberation Sans","color":"#000"},
   "encoding":{
    "x":{"datum":432,"type":"quantitative","scale":{"domain":[-522,447],"nice":false,"zero":false},"axis":{"orient":"top","values":[-500,-400,-300,-200,-100,0,100,200,300,400],"labels":false,"title":null,"tickSize":{"condition":{"test":"datum.value % 200 === 0","value":-7},"value":-3.5}}},
    "y":{"datum":901,"type":"quantitative","scale":{"domain":[716,922],"nice":false,"zero":false},"axis":{"orient":"right","values":[720,730,740,750,760,770,780,790,800,810,820,830,840,850,860,870,880,890,900,910,920],"labels":false,"title":null,"tickSize":{"condition":{"test":"datum.value % 50 === 0","value":-7},"value":-3.5}}},
    "text":{"field":"label","type":"nominal"}
   }}
 ],
 "resolve":{"axis":{"x":"independent","y":"independent"}}
},
{"width":606,"height":90,
 "layer":[
  {"data":{"name":"lc"},"mark":{"type":"tick","orient":"vertical","size":21,"thickness":1,"color":"#8aff8a","opacity":1,"clip":true},
   "encoding":{
    "x":{"field":"t","type":"quantitative","scale":{"domain":[-522,447],"nice":false,"zero":false},"axis":{"orient":"bottom","values":[-500,-400,-300,-200,-100,0,100,200,300,400],"labels":false,"title":null,"tickSize":{"condition":{"test":"datum.value % 200 === 0","value":-7},"value":-3.5}}},
    "y":{"field":"TH1","type":"quantitative","scale":{"domain":[420,614],"nice":false,"zero":false},"axis":{"orient":"left","format":"d","values":[420,430,440,450,460,470,480,490,500,510,520,530,540,550,560,570,580,590,600,610],"title":null,"labelExpr":"datum.value % 50 === 0 ? datum.label : ''","labelPadding":16,"tickSize":{"condition":{"test":"datum.value % 50 === 0","value":-7},"value":-3.5}}}
   }},
  {"data":{"name":"lc"},"mark":{"type":"line","color":"#00ff00","strokeWidth":1,"clip":true},
   "encoding":{
    "x":{"field":"t","type":"quantitative","scale":{"domain":[-522,447],"nice":false,"zero":false},"axis":null},
    "y":{"field":"TH1","type":"quantitative","scale":{"domain":[420,614],"nice":false,"zero":false},"axis":null}
   }},
  {"data":{"values":[{"label":"TH1"}]},"mark":{"type":"text","align":"right","baseline":"middle","fontSize":15.5,"font":"Liberation Sans","color":"#000"},
   "encoding":{
    "x":{"datum":432,"type":"quantitative","scale":{"domain":[-522,447],"nice":false,"zero":false},"axis":{"orient":"top","values":[-500,-400,-300,-200,-100,0,100,200,300,400],"labels":false,"title":null,"tickSize":{"condition":{"test":"datum.value % 200 === 0","value":-7},"value":-3.5}}},
    "y":{"datum":594,"type":"quantitative","scale":{"domain":[420,614],"nice":false,"zero":false},"axis":{"orient":"right","values":[420,430,440,450,460,470,480,490,500,510,520,530,540,550,560,570,580,590,600,610],"labels":false,"title":null,"tickSize":{"condition":{"test":"datum.value % 50 === 0","value":-7},"value":-3.5}}},
    "text":{"field":"label","type":"nominal"}
   }}
 ],
 "resolve":{"axis":{"x":"independent","y":"independent"}}
},
{"width":606,"height":90,
 "layer":[
  {"data":{"name":"lc"},"mark":{"type":"tick","orient":"vertical","size":26,"thickness":1,"color":"#8a8aff","opacity":1,"clip":true},
   "encoding":{
    "x":{"field":"t","type":"quantitative","scale":{"domain":[-522,447],"nice":false,"zero":false},"axis":{"orient":"bottom","values":[-500,-400,-300,-200,-100,0,100,200,300,400],"labels":false,"title":null,"tickSize":{"condition":{"test":"datum.value % 200 === 0","value":-7},"value":-3.5}}},
    "y":{"field":"TH2","type":"quantitative","scale":{"domain":[652,834],"nice":false,"zero":false},"axis":{"orient":"left","format":"d","values":[660,670,680,690,700,710,720,730,740,750,760,770,780,790,800,810,820,830],"title":"Counts/sec","titleX":-66,"titleY":45,"titleAngle":-90,"titleAlign":"center","titleBaseline":"middle","labelExpr":"datum.value % 50 === 0 ? datum.label : ''","labelPadding":16,"tickSize":{"condition":{"test":"datum.value % 50 === 0","value":-7},"value":-3.5}}}
   }},
  {"data":{"name":"lc"},"mark":{"type":"line","color":"#0000ff","strokeWidth":1,"clip":true},
   "encoding":{
    "x":{"field":"t","type":"quantitative","scale":{"domain":[-522,447],"nice":false,"zero":false},"axis":null},
    "y":{"field":"TH2","type":"quantitative","scale":{"domain":[652,834],"nice":false,"zero":false},"axis":null}
   }},
  {"data":{"values":[{"label":"TH2"}]},"mark":{"type":"text","align":"right","baseline":"middle","fontSize":15.5,"font":"Liberation Sans","color":"#000"},
   "encoding":{
    "x":{"datum":432,"type":"quantitative","scale":{"domain":[-522,447],"nice":false,"zero":false},"axis":{"orient":"top","values":[-500,-400,-300,-200,-100,0,100,200,300,400],"labels":false,"title":null,"tickSize":{"condition":{"test":"datum.value % 200 === 0","value":-7},"value":-3.5}}},
    "y":{"datum":814.5,"type":"quantitative","scale":{"domain":[652,834],"nice":false,"zero":false},"axis":{"orient":"right","values":[660,670,680,690,700,710,720,730,740,750,760,770,780,790,800,810,820,830],"labels":false,"title":null,"tickSize":{"condition":{"test":"datum.value % 50 === 0","value":-7},"value":-3.5}}},
    "text":{"field":"label","type":"nominal"}
   }}
 ],
 "resolve":{"axis":{"x":"independent","y":"independent"}}
},
{"width":606,"height":90,
 "layer":[
  {"data":{"name":"lc"},"mark":{"type":"tick","orient":"vertical","size":29,"thickness":1,"color":"#8affff","opacity":1,"clip":true},
   "encoding":{
    "x":{"field":"t","type":"quantitative","scale":{"domain":[-522,447],"nice":false,"zero":false},"axis":{"orient":"bottom","values":[-500,-400,-300,-200,-100,0,100,200,300,400],"labels":false,"title":null,"tickSize":{"condition":{"test":"datum.value % 200 === 0","value":-7},"value":-3.5}}},
    "y":{"field":"TH3","type":"quantitative","scale":{"domain":[1411,1658],"nice":false,"zero":false},"axis":{"orient":"left","format":"d","values":[1420,1430,1440,1450,1460,1470,1480,1490,1500,1510,1520,1530,1540,1550,1560,1570,1580,1590,1600,1610,1620,1630,1640,1650],"title":null,"labelExpr":"datum.value % 50 === 0 ? datum.label : ''","labelPadding":16,"tickSize":{"condition":{"test":"datum.value % 50 === 0","value":-7},"value":-3.5}}}
   }},
  {"data":{"name":"lc"},"mark":{"type":"line","color":"#00ffff","strokeWidth":1,"clip":true},
   "encoding":{
    "x":{"field":"t","type":"quantitative","scale":{"domain":[-522,447],"nice":false,"zero":false},"axis":null},
    "y":{"field":"TH3","type":"quantitative","scale":{"domain":[1411,1658],"nice":false,"zero":false},"axis":null}
   }},
  {"data":{"values":[{"label":"TH3"}]},"mark":{"type":"text","align":"right","baseline":"middle","fontSize":15.5,"font":"Liberation Sans","color":"#000"},
   "encoding":{
    "x":{"datum":432,"type":"quantitative","scale":{"domain":[-522,447],"nice":false,"zero":false},"axis":{"orient":"top","values":[-500,-400,-300,-200,-100,0,100,200,300,400],"labels":false,"title":null,"tickSize":{"condition":{"test":"datum.value % 200 === 0","value":-7},"value":-3.5}}},
    "y":{"datum":1632,"type":"quantitative","scale":{"domain":[1411,1658],"nice":false,"zero":false},"axis":{"orient":"right","values":[1420,1430,1440,1450,1460,1470,1480,1490,1500,1510,1520,1530,1540,1550,1560,1570,1580,1590,1600,1610,1620,1630,1640,1650],"labels":false,"title":null,"tickSize":{"condition":{"test":"datum.value % 50 === 0","value":-7},"value":-3.5}}},
    "text":{"field":"label","type":"nominal"}
   }}
 ],
 "resolve":{"axis":{"x":"independent","y":"independent"}}
},
{"width":606,"height":90,
 "layer":[
  {"data":{"name":"lc"},"mark":{"type":"tick","orient":"vertical","size":23,"thickness":1,"color":"#ff8aff","opacity":1,"clip":true},
   "encoding":{
    "x":{"field":"t","type":"quantitative","scale":{"domain":[-522,447],"nice":false,"zero":false},"axis":{"orient":"bottom","format":"d","values":[-500,-400,-300,-200,-100,0,100,200,300,400],"title":"Time [sec] 0 = 2008/02/11 07:23:38","titleX":287.5,"titleY":29,"titleAlign":"center","titleBaseline":"middle","labelExpr":"datum.value % 200 === 0 ? datum.label : ''","labelPadding":12,"tickSize":{"condition":{"test":"datum.value % 200 === 0","value":-7},"value":-3.5}}},
    "y":{"field":"TH0123","type":"quantitative","scale":{"domain":[3377,3849],"nice":false,"zero":false},"axis":{"orient":"left","format":"d","values":[3380,3400,3420,3440,3460,3480,3500,3520,3540,3560,3580,3600,3620,3640,3660,3680,3700,3720,3740,3760,3780,3800,3820,3840],"title":null,"labelExpr":"datum.value % 100 === 0 ? datum.label : ''","labelPadding":16,"tickSize":{"condition":{"test":"datum.value % 100 === 0","value":-7},"value":-3.5}}}
   }},
  {"data":{"name":"lc"},"mark":{"type":"line","color":"#ff00ff","strokeWidth":1,"clip":true},
   "encoding":{
    "x":{"field":"t","type":"quantitative","scale":{"domain":[-522,447],"nice":false,"zero":false},"axis":null},
    "y":{"field":"TH0123","type":"quantitative","scale":{"domain":[3377,3849],"nice":false,"zero":false},"axis":null}
   }},
  {"data":{"values":[{"label":"TH0123"}]},"mark":{"type":"text","align":"right","baseline":"middle","fontSize":15.5,"font":"Liberation Sans","color":"#000"},
   "encoding":{
    "x":{"datum":432,"type":"quantitative","scale":{"domain":[-522,447],"nice":false,"zero":false},"axis":{"orient":"top","values":[-500,-400,-300,-200,-100,0,100,200,300,400],"labels":false,"title":null,"tickSize":{"condition":{"test":"datum.value % 200 === 0","value":-7},"value":-3.5}}},
    "y":{"datum":3799,"type":"quantitative","scale":{"domain":[3377,3849],"nice":false,"zero":false},"axis":{"orient":"right","values":[3380,3400,3420,3440,3460,3480,3500,3520,3540,3560,3580,3600,3620,3640,3660,3680,3700,3720,3740,3760,3780,3800,3820,3840],"labels":false,"title":null,"tickSize":{"condition":{"test":"datum.value % 100 === 0","value":-7},"value":-3.5}}},
    "text":{"field":"label","type":"nominal"}
   }}
 ],
 "resolve":{"axis":{"x":"independent","y":"independent"}}
}
],
"config":{
 "font":"Liberation Sans",
 "view":{"stroke":"#000","strokeWidth":1.2},
 "axis":{"labelFont":"Liberation Sans","labelFontSize":15.5,"labelColor":"#000","titleFont":"Liberation Sans","titleFontSize":15.5,"titleFontWeight":"normal","titleColor":"#000","tickColor":"#333","tickWidth":1.2,"domain":false,"grid":false,"labelFlush":false,"labelOverlap":false,"labelBound":false}
}
}
